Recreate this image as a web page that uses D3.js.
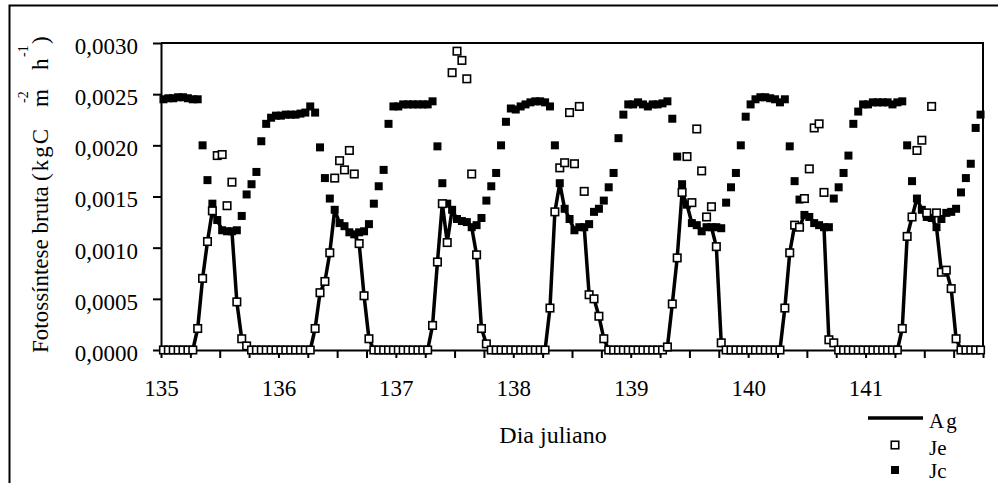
<!DOCTYPE html>
<html>
<head>
<meta charset="utf-8">
<style>
body { margin: 0; background: #fff; }
text { font-family: "Liberation Serif", "Times New Roman", "DejaVu Serif", serif; fill: #000; }
</style>
<script src="https://cdn.jsdelivr.net/npm/d3@7/dist/d3.min.js"></script>
</head>
<body>
<svg id="chart" width="998" height="483"></svg>
<script>

// julian days shown on the x axis (one row of 24 hourly values per day below)
var days = [135, 136, 137, 138, 139, 140, 141];
var yTicks = [0, 0.0005, 0.0010, 0.0015, 0.0020, 0.0025, 0.0030];

// Jc - filled squares
var jc = [
  [0.00245,0.00246,0.00246,0.00247,0.00247,0.00246,0.00245,0.00245,0.00200,0.00166,0.00143,0.00127,0.00117,0.00116,0.00116,0.00117,0.00131,0.00152,0.00162,0.00174,0.00204,0.00221,0.00227,0.00229],
  [0.00229,0.00230,0.00230,0.00230,0.00231,0.00232,0.00238,0.00232,0.00198,0.00168,0.00148,0.00137,0.00124,0.00121,0.00115,0.00113,0.00115,0.00116,0.00123,0.00143,0.00160,0.00176,0.00221,0.00238],
  [0.00238,0.00240,0.00240,0.00240,0.00240,0.00240,0.00240,0.00243,0.00199,0.00163,0.00143,0.00137,0.00128,0.00126,0.00125,0.00120,0.00122,0.00129,0.00146,0.00160,0.00173,0.00200,0.00223,0.00236],
  [0.00235,0.00238,0.00240,0.00242,0.00243,0.00243,0.00242,0.00238,0.00200,0.00163,0.00138,0.00128,0.00117,0.00120,0.00120,0.00123,0.00135,0.00138,0.00146,0.00159,0.00173,0.00207,0.00230,0.00240],
  [0.00240,0.00242,0.00240,0.00238,0.00240,0.00240,0.00241,0.00243,0.00226,0.00189,0.00162,0.00142,0.00124,0.00122,0.00116,0.00120,0.00120,0.00120,0.00119,0.00144,0.00159,0.00173,0.00200,0.00228],
  [0.00240,0.00245,0.00247,0.00247,0.00246,0.00245,0.00242,0.00245,0.00199,0.00165,0.00147,0.00132,0.00130,0.00124,0.00122,0.00120,0.00120,0.00148,0.00159,0.00173,0.00190,0.00221,0.00233,0.00240],
  [0.00240,0.00242,0.00242,0.00242,0.00242,0.00240,0.00242,0.00243,0.00200,0.00165,0.00148,0.00137,0.00130,0.00129,0.00120,0.00128,0.00134,0.00135,0.00138,0.00154,0.00168,0.00182,0.00217,0.00230]
];

// Je - open squares
var je = [
  [0,0,0,0,0,0,0,0.00021,0.00070,0.00106,0.00136,0.00190,0.00191,0.00141,0.00164,0.00047,0.00011,0.00004,0,0,0,0,0,0],
  [0,0,0,0,0,0,0,0.00021,0.00056,0.00067,0.00095,0.00168,0.00185,0.00176,0.00195,0.00172,0.00104,0.00053,0.00011,0,0,0,0,0],
  [0,0,0,0,0,0,0,0.00024,0.00086,0.00143,0.00105,0.00271,0.00292,0.00283,0.00265,0.00172,0.00093,0.00021,0.00006,0,0,0,0,0],
  [0,0,0,0,0,0,0,0.00041,0.00135,0.00178,0.00183,0.00232,0.00182,0.00238,0.00155,0.00054,0.00050,0.00033,0.00011,0,0,0,0,0],
  [0,0,0,0,0,0,0,0.00003,0.00045,0.00090,0.00154,0.00189,0.00144,0.00216,0.00175,0.00130,0.00140,0.00101,0.00007,0,0,0,0,0],
  [0,0,0,0,0,0,0,0.00041,0.00095,0.00122,0.00120,0.00148,0.00177,0.00217,0.00221,0.00154,0.00010,0.00007,0,0,0,0,0,0],
  [0,0,0,0,0,0,0,0.00021,0.00111,0.00130,0.00195,0.00205,0.00134,0.00238,0.00134,0.00076,0.00078,0.00060,0.00011,0,0,0,0,0]
];

// Ag - line
var ag = [
  [0,0,0,0,0,0,0,0.00021,0.00070,0.00106,0.00136,0.00127,0.00117,0.00116,0.00116,0.00047,0.00011,0.00004,0,0,0,0,0,0],
  [0,0,0,0,0,0,0,0.00021,0.00056,0.00067,0.00095,0.00137,0.00124,0.00121,0.00115,0.00113,0.00104,0.00053,0.00011,0,0,0,0,0],
  [0,0,0,0,0,0,0,0.00024,0.00086,0.00143,0.00105,0.00137,0.00128,0.00126,0.00125,0.00120,0.00093,0.00021,0.00006,0,0,0,0,0],
  [0,0,0,0,0,0,0,0.00041,0.00135,0.00163,0.00138,0.00128,0.00117,0.00120,0.00120,0.00054,0.00050,0.00033,0.00011,0,0,0,0,0],
  [0,0,0,0,0,0,0,0.00003,0.00045,0.00090,0.00154,0.00142,0.00124,0.00122,0.00116,0.00120,0.00120,0.00101,0.00007,0,0,0,0,0],
  [0,0,0,0,0,0,0,0.00041,0.00095,0.00122,0.00120,0.00132,0.00130,0.00124,0.00122,0.00120,0.00010,0.00007,0,0,0,0,0,0],
  [0,0,0,0,0,0,0,0.00021,0.00111,0.00130,0.00148,0.00137,0.00130,0.00129,0.00120,0.00076,0.00078,0.00060,0.00011,0,0,0,0,0]
];

// flatten a day x hour table into {t, v} points (values at mid-hour)
function toPoints(table) {
    var pts = [];
    table.forEach(function(row, d) {
        row.forEach(function(v, h) {
            pts.push({ t: days[d] + (h + 0.5) / 24, v: v });
        });
    });
    return pts;
}

function drawChart() {
    var svg = d3.select("#chart");
    var serif = '"Liberation Serif", "Times New Roman", "DejaVu Serif", serif';

    var plotLeft = 161, plotRight = 983, plotTop = 43, plotBottom = 350;

    var x = d3.scaleLinear().domain([135, 142]).range([plotLeft, plotRight]);
    var y = d3.scaleLinear().domain([0, 0.003]).range([plotBottom, plotTop]);

    // outer frame (runs off the picture at right and bottom)
    svg.append("rect")
        .attr("x", 9.5).attr("y", 5.5)
        .attr("width", 1100).attr("height", 600)
        .attr("fill", "none").attr("stroke", "#000").attr("stroke-width", 2);

    // plot frame top & right
    svg.append("path")
        .attr("d", "M" + plotLeft + "," + plotTop + "H" + plotRight + "V" + plotBottom)
        .attr("fill", "none").attr("stroke", "#000").attr("stroke-width", 2);

    // x axis, ticks every 6 h, labels on whole days
    var xTickVals = d3.range(0, 29).map(function(i) { return 135 + i * 0.25; });
    var xAxis = d3.axisBottom(x)
        .tickValues(xTickVals)
        .tickSize(8)
        .tickSizeOuter(0)
        .tickFormat(function(d) { return (d % 1 === 0 && d < 142) ? d : ""; });

    var gx = svg.append("g")
        .attr("transform", "translate(0," + plotBottom + ")")
        .call(xAxis);
    gx.selectAll("path, line").attr("stroke", "#000").attr("stroke-width", 2);
    gx.selectAll("text")
        .attr("y", 46).attr("dy", 0)
        .style("font-size", "23px")
        .style("font-family", serif);

    // y axis
    var yAxis = d3.axisLeft(y)
        .tickValues(yTicks)
        .tickSize(8)
        .tickSizeOuter(0)
        .tickFormat(function(d) { return d3.format(".4f")(d).replace(".", ","); });

    var gy = svg.append("g")
        .attr("transform", "translate(" + plotLeft + ",0)")
        .call(yAxis);
    gy.selectAll("path, line").attr("stroke", "#000").attr("stroke-width", 2);
    gy.selectAll("text")
        .attr("x", -23).attr("dy", "0.45em")
        .style("font-size", "23px")
        .style("font-family", serif);

    // series
    var jcPts = toPoints(jc);
    var jePts = toPoints(je);
    var agPts = toPoints(ag);

    svg.append("g").selectAll("rect")
        .data(jcPts)
        .enter().append("rect")
        .attr("x", function(d) { return x(d.t) - 4; })
        .attr("y", function(d) { return y(d.v) - 4; })
        .attr("width", 8).attr("height", 8)
        .attr("fill", "#000");

    var line = d3.line()
        .x(function(d) { return x(d.t); })
        .y(function(d) { return y(d.v); });

    svg.append("path")
        .datum(agPts)
        .attr("d", line)
        .attr("fill", "none")
        .attr("stroke", "#000")
        .attr("stroke-width", 3.5)
        .attr("stroke-linejoin", "round");

    svg.append("g").selectAll("rect")
        .data(jePts)
        .enter().append("rect")
        .attr("x", function(d) { return x(d.t) - 3.75; })
        .attr("y", function(d) { return y(d.v) - 3.75; })
        .attr("width", 7.5).attr("height", 7.5)
        .attr("fill", "#fff")
        .attr("stroke", "#000")
        .attr("stroke-width", 1.6);

    // axis titles
    svg.append("text")
        .attr("x", 553).attr("y", 443)
        .attr("text-anchor", "middle")
        .style("font-size", "24px")
        .text("Dia juliano");

    // y title: pieces placed along the rotated baseline (x = distance up from y=353)
    var yt = svg.append("text")
        .attr("transform", "translate(48,353) rotate(-90)")
        .style("font-size", "23px");
    yt.append("tspan").attr("x", 0).text("Fotossíntese bruta");
    yt.append("tspan").attr("x", 172).style("letter-spacing", "2px").text("(kgC");
    yt.append("tspan").attr("x", 246).text("m");
    yt.append("tspan").attr("x", 250).attr("dy", -20).style("font-size", "14px").text("-2");
    yt.append("tspan").attr("x", 283).attr("dy", 20).text("h");
    yt.append("tspan").attr("x", 296).attr("dy", -20).style("font-size", "14px").text("-1");
    yt.append("tspan").attr("x", 309).attr("dy", 20).text(")");

    // legend
    var lg = svg.append("g");
    lg.append("line")
        .attr("x1", 868).attr("x2", 923).attr("y1", 418).attr("y2", 418)
        .attr("stroke", "#000").attr("stroke-width", 3.5);
    lg.append("rect")
        .attr("x", 891.25).attr("y", 441.25).attr("width", 7.5).attr("height", 7.5)
        .attr("fill", "#fff").attr("stroke", "#000").attr("stroke-width", 1.6);
    lg.append("rect")
        .attr("x", 891).attr("y", 466).attr("width", 8).attr("height", 8)
        .attr("fill", "#000");
    var legendNames = ["Ag", "Je", "Jc"];
    var legendY = [428, 455, 478];
    legendNames.forEach(function(n, i) {
        lg.append("text")
            .attr("x", 929).attr("y", legendY[i])
            .style("font-size", "21px")
            .style("letter-spacing", i === 0 ? "2px" : "0px")
            .text(n);
    });
}

drawChart();

</script>
</body>
</html>
